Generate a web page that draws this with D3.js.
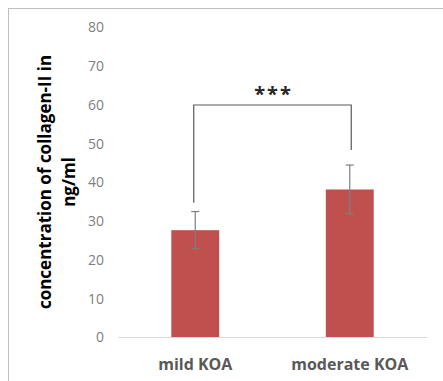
<!DOCTYPE html>
<html>
<head>
<meta charset="utf-8">
<script src="https://d3js.org/d3.v7.min.js"></script>
<style>
  body { margin: 0; background: #fff; }
  svg text { font-family: "Open Sans", "Liberation Sans", sans-serif; }
</style>
</head>
<body>
<script>
// chart values
var categories = ["mild KOA", "moderate KOA"];
var means = [27.7, 38.2];
var errors = [4.8, 6.3];
var yTicks = [0, 10, 20, 30, 40, 50, 60, 70, 80];
var bracketTop = 60;
var bracketEnds = [34.8, 48.4];
var starText = "***";
var titleLines = ["concentration of collagen-II in", "ng/ml"];

var width = 443, height = 381;
var margin = {left: 118, right: 16, top: 27.5, bottom: 43.5};

var svg = d3.select("body").append("svg")
    .attr("width", width)
    .attr("height", height);

// outer frame
svg.append("rect")
    .attr("x", 8.5).attr("y", 8.5)
    .attr("width", width + 10).attr("height", height + 10)
    .attr("fill", "none")
    .attr("stroke", "#bfbfbf");

var x = d3.scaleBand()
    .domain(categories)
    .range([margin.left, width - margin.right])
    .paddingInner(0.69)
    .paddingOuter(0.345);

var y = d3.scaleLinear()
    .domain([0, 80])
    .range([height - margin.bottom, margin.top]);

// y tick labels
var yAxis = svg.append("g")
    .attr("transform", "translate(" + 104 + ",0)")
    .call(d3.axisLeft(y).tickValues(yTicks).tickSize(0).tickPadding(0));
yAxis.select(".domain").remove();
yAxis.selectAll("text")
    .attr("fill", "#808080")
    .style("font-size", "14px");

// bars
svg.selectAll("rect.bar")
    .data(categories)
    .enter().append("rect")
    .attr("class", "bar")
    .attr("x", function(d) { return x(d); })
    .attr("width", x.bandwidth())
    .attr("y", function(d, i) { return y(means[i]); })
    .attr("height", function(d, i) { return y(0) - y(means[i]); })
    .attr("fill", "#c0504d");

// baseline
svg.append("line")
    .attr("x1", margin.left).attr("x2", width - margin.right)
    .attr("y1", y(0)).attr("y2", y(0))
    .attr("stroke", "#d9d9d9");

// error bars
var eb = svg.selectAll("g.err")
    .data(categories)
    .enter().append("g")
    .attr("class", "err")
    .attr("stroke", "#7f7f7f")
    .attr("stroke-width", 1.2);
eb.append("line")
    .attr("x1", function(d) { return x(d) + x.bandwidth() / 2; })
    .attr("x2", function(d) { return x(d) + x.bandwidth() / 2; })
    .attr("y1", function(d, i) { return y(means[i] + errors[i]); })
    .attr("y2", function(d, i) { return y(means[i] - errors[i]); });
[1, -1].forEach(function(s) {
  eb.append("line")
    .attr("x1", function(d) { return x(d) + x.bandwidth() / 2 - 4; })
    .attr("x2", function(d) { return x(d) + x.bandwidth() / 2 + 4; })
    .attr("y1", function(d, i) { return y(means[i] + s * errors[i]); })
    .attr("y2", function(d, i) { return y(means[i] + s * errors[i]); });
});

// significance bracket
var bx1 = x(categories[0]) + x.bandwidth() / 2 - 1.5;
var bx2 = x(categories[1]) + x.bandwidth() / 2 + 1.5;
svg.append("path")
    .attr("d", "M" + bx1 + "," + y(bracketEnds[0]) +
               "V" + y(bracketTop) + "H" + bx2 + "V" + y(bracketEnds[1]))
    .attr("fill", "none")
    .attr("stroke", "#595959")
    .attr("stroke-width", 1.2);
svg.append("text")
    .attr("x", (bx1 + bx2) / 2 + 1)
    .attr("y", y(bracketTop) - 4)
    .attr("text-anchor", "middle")
    .style("font-size", "20px")
    .style("font-weight", "bold")
    .style("letter-spacing", "2px")
    .attr("fill", "#262626")
    .text(starText);

// x labels
svg.selectAll("text.xlab")
    .data(categories)
    .enter().append("text")
    .attr("class", "xlab")
    .attr("x", function(d) { return x(d) + x.bandwidth() / 2; })
    .attr("y", 370)
    .attr("text-anchor", "middle")
    .attr("fill", "#595959")
    .style("font-size", "16px")
    .style("font-weight", "bold")
    .text(function(d) { return d; });

// y title
var title = svg.append("text")
    .attr("transform", "translate(51,182) rotate(-90)")
    .attr("text-anchor", "middle")
    .attr("fill", "#000")
    .style("font-size", "17px")
    .style("font-weight", "bold");
title.selectAll("tspan")
    .data(titleLines)
    .enter().append("tspan")
    .attr("x", 0)
    .attr("dy", function(d, i) { return i === 0 ? 0 : 24; })
    .text(function(d) { return d; });
</script>
</body>
</html>
